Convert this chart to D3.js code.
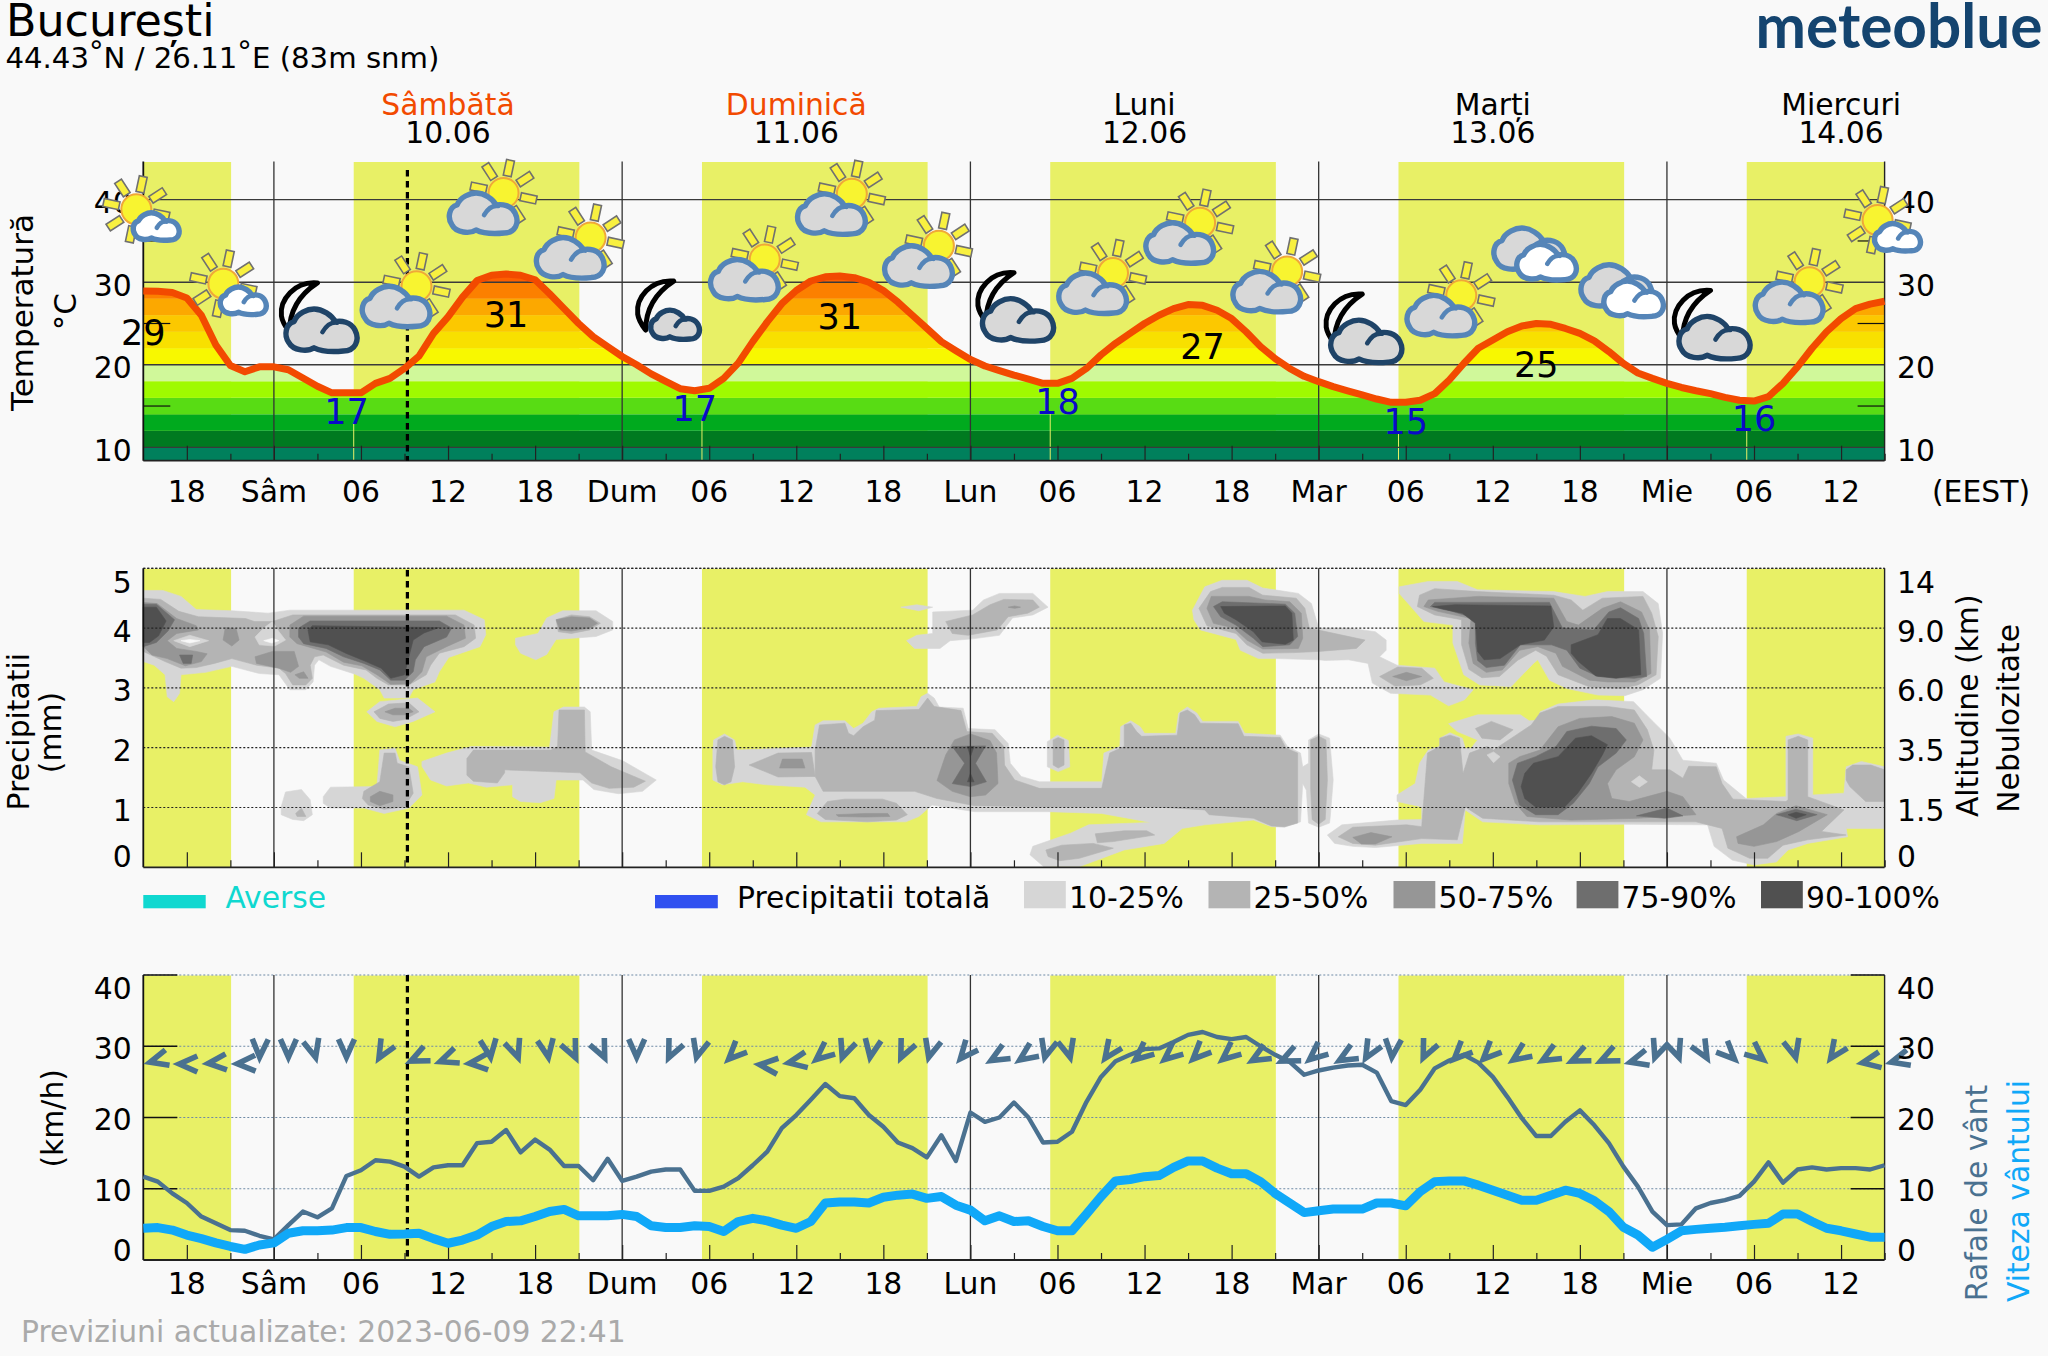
<!DOCTYPE html>
<html><head><meta charset="utf-8">
<style>html,body{margin:0;padding:0;background:#f9f9f9}svg{display:block}text{font-family:"DejaVu Sans",sans-serif}</style>
<script src="https://cdn.jsdelivr.net/npm/d3@7"></script></head><body>
<svg id="c" width="2048" height="1356"></svg>
<script>
// ---------- data (hours are counted from 15:00 on 09.06) ----------
const hoursTotal = 120;
const dayHours = [9,33,57,81,105];
const dayNames = ['Sâmbătă','Duminică','Luni','Marți','Miercuri'];
const dayDates = ['10.06','11.06','12.06','13.06','14.06'];
const dayNameColors = ['#f24a00','#f24a00','#000','#000','#000'];
const dayCenters = [21,45,69,93,117];
const daylight = [[0,6.05],[14.5,30.05],[38.5,54.05],[62.5,78.05],[86.5,102.05],[110.5,120]];
const nowHour = 18.2;
const xMajor = [3,9,15,21,27,33,39,45,51,57,63,69,75,81,87,93,99,105,111,117];
const xMinor = [6,12,18,24,30,36,42,48,54,60,66,72,78,84,90,96,102,108,114,120];
const xLabels = ['18','Sâm','06','12','18','Dum','06','12','18','Lun','06','12','18','Mar','06','12','18','Mie','06','12'];
const temperature = [28.95,28.9,28.75,28.1,26,22.4,19.9,19.15,19.75,19.75,19.4,18.4,17.4,16.6,16.6,16.6,17.75,18.35,19.55,21.05,23.8,25.8,28.2,30.2,30.85,31,30.85,30.3,28.6,26.8,25,23.4,22.2,21,20,18.9,18,17.1,16.85,17.15,18.35,20.2,22.8,25.2,27.4,29,30.15,30.65,30.75,30.55,30,29,27.6,26,24.4,22.8,21.7,20.65,19.85,19.3,18.75,18.25,17.75,17.75,18.35,19.55,21.2,22.6,23.8,25,26,26.8,27.3,27.2,26.6,25.6,24,22.2,20.75,19.55,18.6,17.95,17.35,16.85,16.35,15.85,15.45,15.45,15.7,16.5,18.15,20.15,22,23,24,24.7,25,24.9,24.4,23.8,22.9,21.6,20.15,19,18.35,17.75,17.25,16.85,16.5,16.05,15.7,15.6,16.15,17.75,19.75,22,24,25.6,26.8,27.35,27.7];
const tempBandEdges = [8,10,12,14,16,18,20,22,24,26,28,30,46];
const tempBandColors = ['#00805c','#007a20','#00aa1e','#58dc14','#9ffa00','#d0f89a','#f8f800','#f8e000','#fcc800','#fca800','#fc8000','#fc6000'];
const tempTicks = [40,30,20,10];
const tempMinorTicks = [35,25,15];
const highLabelHours = [0,25,48,73,96];
const highLabelValues = [29,31,31,27,25];
const highLabelLevels = [23.85,26.05,25.8,22.2,20];
const lowLabelHours = [14,38,63,87,111];
const lowLabelValues = [17,17,18,15,16];
const lowLabelLevels = [14.3,14.75,15.55,13.1,13.55];
const sunriseHours = [14.5,38.5,62.5,86.5,110.5];
const iconHours = [0,6,12,18,24,30,36,42,48,54,60,66,72,78,84,90,96,102,108,114,120];
const iconKinds = ['sunWhite','sunWhite','moonDark','sunGray','sunGray','sunGray','moonSmall','sunGray','sunGray','sunGray','moonDark','sunGray','sunGray','sunGray','moonDark','sunGray','grayWhite','grayWhite','moonDark','sunGray','sunWhite'];
const iconLevels = [37.8,28.8,25.55,28.3,39.6,34.2,25.9,31.55,39.5,33.2,26.8,29.9,36,30.1,24.2,27.2,33.3,28.85,24.65,28.8,36.5];

const precipTicks = [5,4,3,2,1,0];
const altitudeLabels = ['14','9.0','6.0','3.5','1.5','0'];
const cloudLegendLabels = ['10-25%','25-50%','50-75%','75-90%','90-100%'];
const cloudColors = ['#d6d6d6','#b4b4b4','#969696','#6e6e6e','#505050'];

const cloud10 = [
[[0,4.63],[1.35,4.63],[2.6,4.53],[3.65,4.31],[6.1,4.29],[8.6,4.25],[10.1,4.3],[22.1,4.3],[23.5,4.14],[23.6,3.89],[23.2,3.69],[21.05,3.51],[20.4,3.27],[20.1,3.1],[18.6,2.97],[18.3,2.83],[16.6,2.83],[16.3,2.97],[15.2,3.16],[14.6,3.23],[12.9,3.36],[12.1,3.47],[11.8,3.38],[11.7,3.1],[11.2,2.97],[10.1,2.97],[9.35,3.22],[8,3.24],[6.1,3.36],[4.3,3.26],[2.6,3.22],[2.5,2.91],[2.1,2.77],[1.65,2.85],[1.5,3.22],[0.75,3.38],[0,3.44]],
[[25.65,3.83],[27.2,3.91],[27.8,4.17],[28.9,4.29],[31.2,4.29],[32.35,4.11],[32.35,3.97],[31.2,3.86],[28.45,3.81],[27.8,3.56],[27.05,3.47],[26,3.58],[25.65,3.72]],
[[15.4,2.6],[16.3,2.77],[18.9,2.83],[20.1,2.6],[18.6,2.44],[17.35,2.35],[16.1,2.44]],
[[9.5,1.01],[9.8,1.26],[10.9,1.3],[11.5,1.13],[11.65,0.88],[11.05,0.78],[10.3,0.8],[9.5,0.88]],
[[12.4,1.18],[12.9,1.34],[16.1,1.35],[16.3,1.96],[17.35,1.99],[17.65,1.79],[18.9,1.68],[19.2,1.21],[18.3,0.99],[16.6,0.9],[15.2,0.99],[12.9,0.99],[12.4,1.07]],
[[19.2,1.77],[20.9,1.91],[22.6,2.02],[28,2.01],[28.3,2.6],[28.95,2.68],[30.4,2.68],[30.8,2.6],[30.9,1.96],[33.05,1.78],[35.35,1.46],[34.4,1.27],[32.75,1.23],[31.05,1.3],[30.3,1.46],[28.45,1.46],[28.3,1.15],[27.35,1.08],[26,1.1],[25.45,1.18],[25.45,1.38],[23.65,1.34],[22.4,1.41],[20.9,1.36],[19.8,1.46],[19.2,1.69]],
[[52.2,4.35],[53.3,4.39],[54.4,4.35],[53.45,4.29]],
[[52.6,3.79],[53.3,3.88],[54.4,3.91],[54.4,4.27],[57.15,4.3],[57.9,4.47],[59,4.58],[61.3,4.58],[62.35,4.35],[61.3,4.22],[59.9,4.17],[59,3.88],[57.15,3.82],[55.6,3.79],[54.9,3.66],[53.15,3.66]],
[[39.25,1.96],[39.3,2.13],[40.05,2.23],[40.75,2.13],[40.9,1.96],[46.05,2.01],[46.3,2.38],[46.85,2.45],[48.35,2.45],[48.95,2.32],[49.6,2.41],[50.2,2.6],[50.7,2.66],[53.3,2.69],[53.6,2.85],[54.05,2.91],[54.5,2.83],[54.85,2.68],[56.5,2.66],[56.85,2.32],[58.7,2.3],[59.6,2.07],[59.75,1.74],[60.5,1.52],[61.75,1.43],[66.05,1.43],[66.2,1.91],[67.3,2.02],[67.35,2.35],[68.05,2.45],[68.7,2.35],[69,2.24],[71.15,2.24],[71.35,2.58],[71.95,2.68],[72.6,2.58],[73,2.44],[75.45,2.44],[75.9,2.24],[78.35,2.21],[78.85,2.02],[79.75,1.91],[79.9,1.68],[80.3,1.74],[80.3,2.13],[81,2.23],[81.75,2.16],[82,1.46],[81.8,0.85],[81.75,0.74],[81,0.67],[80.3,0.74],[80.15,1.29],[79.9,1.4],[79.75,0.76],[78.65,0.67],[77.75,0.68],[76.5,0.79],[73.15,0.71],[71.6,0.65],[70.35,0.4],[67.6,0.29],[64.5,0.01],[62.05,0.01],[61.1,0.21],[61.3,0.35],[63.9,0.57],[65.15,0.71],[69.45,0.75],[66.05,0.9],[62.35,0.93],[57.3,0.93],[54.35,1.04],[53.45,0.85],[52.55,0.76],[46.7,0.76],[45.7,0.88],[46.3,1.21],[45.6,1.34],[42.95,1.38],[41.3,1.43],[39.9,1.38],[39.25,1.46]],
[[62.3,2.1],[63,2.21],[63.75,2.12],[63.85,1.68],[63.05,1.6],[62.3,1.68]],
[[81.6,0.54],[82.6,0.71],[86.4,0.79],[88.1,0.8],[88.1,1.01],[86.4,1.1],[86.4,1.21],[87.65,1.4],[87.95,1.74],[88.55,1.96],[89.35,2.02],[89.35,2.16],[90.05,2.25],[90.9,2.16],[91.1,1.99],[91.5,1.99],[91.95,2.13],[90.55,2.27],[89.95,2.4],[91.95,2.55],[94.9,2.55],[95.5,2.45],[96.25,2.46],[96.25,2.6],[97.5,2.73],[100,2.8],[102.7,2.77],[103.95,2.46],[105.2,2.16],[106.1,1.79],[108.4,1.74],[108.9,1.46],[110.45,1.15],[113.2,1.18],[113.2,2.19],[114.05,2.23],[115.05,2.16],[115.05,1.21],[117.2,1.24],[117.35,1.68],[118.4,1.77],[120,1.68],[120,0.65],[117.35,0.65],[117.45,0.51],[114.7,0.4],[113.35,0.29],[112.55,0.09],[111,0.04],[109.5,0.12],[108.25,0.35],[107.8,0.71],[102.1,0.72],[96.25,0.71],[92.3,0.76],[91.1,0.96],[90.9,0.4],[88.1,0.4],[84.9,0.33],[83.35,0.35],[82.1,0.4]],
[[72.3,4.3],[73.15,4.69],[74.35,4.8],[76.05,4.8],[77.15,4.67],[79.6,4.58],[80.5,4.41],[81,4],[83.05,4],[84.9,3.94],[85.65,3.8],[85.65,3.63],[85.2,3.52],[86.4,3.38],[89,3.33],[89.65,3.1],[91.65,2.97],[91.05,2.8],[89.95,2.7],[88.7,2.88],[85.95,2.91],[84.7,3.08],[84.4,3.41],[83.05,3.47],[81.45,3.46],[81,3.47],[78.05,3.49],[76.85,3.49],[75.6,3.63],[75.3,3.81],[72.85,3.97],[72.4,4.14]],
[[86.55,4.69],[88.55,4.78],[90.55,4.78],[91.95,4.64],[97.2,4.61],[99.35,4.53],[100.9,4.61],[103.35,4.61],[104.4,4.41],[104.7,3.91],[104.55,3.16],[103.35,2.97],[102.1,2.87],[100.25,2.88],[98.1,2.99],[96.9,3.13],[96.1,3.47],[95.8,3.41],[94.25,3.02],[92.1,3.05],[91,3.22],[90.25,3.75],[90.25,4.05],[88.25,4.11],[87.35,4.36],[86.55,4.58]]
];
const cloud25 = [
[[0,4.5],[1.2,4.48],[2.45,4.28],[3.8,4.19],[7.05,4.16],[7.65,4.11],[8.9,4.11],[10.3,4.22],[21.5,4.22],[22.8,4.05],[22.9,3.83],[22.1,3.69],[20.4,3.58],[19.8,3.38],[19.5,3.22],[18.3,3.05],[16.9,3.05],[16.1,3.16],[15.35,3.3],[13.8,3.38],[12.4,3.55],[11.8,3.52],[11.5,3.38],[11.65,3.16],[11.2,3.05],[10.3,3.05],[9.8,3.24],[9.35,3.33],[7.8,3.38],[6.1,3.49],[4.9,3.41],[3.65,3.34],[2.6,3.33],[1.5,3.44],[0,3.61]],
[[28.45,4.14],[29.5,4.22],[30.75,4.19],[31.5,4.08],[30.75,3.97],[29.5,3.91],[28.6,3.94]],
[[15.9,2.6],[16.9,2.73],[18.3,2.75],[19,2.6],[18,2.47],[17.2,2.44],[16.3,2.49]],
[[15.2,1.27],[16.3,1.43],[16.6,1.91],[17.35,1.91],[17.5,1.74],[18.3,1.68],[18.6,1.24],[18,1.01],[16.6,0.97],[15.5,1.04],[15.1,1.15]],
[[10.5,0.9],[10.9,0.99],[11.2,0.85],[10.6,0.85]],
[[22.3,1.82],[22.75,1.96],[28.1,1.96],[28.55,2.02],[28.65,2.63],[30.4,2.63],[30.45,1.93],[32.25,1.68],[34.6,1.44],[33.8,1.34],[32.1,1.32],[30.9,1.41],[30.1,1.58],[24.9,1.63],[24.9,1.58],[24.4,1.41],[22.75,1.44],[22.3,1.54]],
[[55.3,4.11],[57.15,4.22],[58.35,4.39],[59.3,4.48],[61.3,4.47],[61.75,4.35],[60.95,4.25],[59.6,4.19],[58.85,3.97],[56.85,3.88],[55.75,3.91]],
[[39.6,2.13],[40.05,2.19],[40.6,2.13],[40.75,1.68],[40.5,1.43],[40.05,1.38],[39.6,1.43],[39.45,1.68]],
[[41.75,1.71],[43.75,1.91],[46.05,1.92],[46.3,1.52],[43.75,1.51]],
[[46.3,1.96],[46.6,2.38],[48.35,2.41],[48.6,2.24],[48.95,2.2],[49.6,2.35],[50.4,2.46],[50.5,2.62],[53.45,2.64],[54.05,2.83],[54.5,2.69],[56.35,2.62],[56.75,2.27],[58.5,2.24],[59.3,2.02],[59.35,1.71],[60.05,1.46],[61.75,1.32],[66.05,1.32],[66.6,1.91],[67.6,2.02],[67.6,2.38],[68.05,2.41],[68.45,2.27],[68.8,2.19],[71.25,2.21],[71.45,2.58],[71.95,2.63],[72.45,2.55],[72.85,2.41],[75.45,2.4],[75.85,2.19],[78.35,2.17],[78.75,1.99],[79.55,1.91],[79.55,0.74],[78.65,0.68],[77.75,0.69],[76.5,0.82],[73.45,0.88],[73.15,0.96],[69.75,1.01],[66.55,1.01],[62.35,1.01],[57.3,1.03],[54.7,1.15],[53.15,1.27],[46.85,1.27],[46.3,1.52]],
[[62.7,2.13],[63.05,2.17],[63.45,2.13],[63.45,1.71],[63.05,1.66],[62.7,1.71]],
[[80.45,2.13],[81,2.19],[81.5,2.13],[81.6,1.46],[81.45,0.8],[81,0.72],[80.55,0.8],[80.45,1.3]],
[[46.45,0.9],[47.15,1.1],[48.35,1.14],[50.95,1.14],[51.9,1.07],[52.65,0.88],[51.9,0.79],[49.9,0.76],[47,0.8]],
[[65.6,0.56],[67.6,0.61],[69.15,0.61],[69.7,0.54],[66.85,0.43],[65.75,0.41]],
[[62.2,0.29],[63.3,0.37],[65.45,0.4],[66.85,0.32],[64.5,0.15],[63.15,0.11],[62.35,0.18]],
[[82.35,0.51],[83.35,0.67],[87.05,0.71],[88.1,0.68],[88.5,1.91],[89.35,2.02],[89.35,2.16],[90.05,2.21],[90.7,2.16],[90.95,1.57],[91.4,1.91],[92.6,2.02],[93.05,1.96],[94.1,2.13],[95.65,2.38],[96.25,2.58],[97.5,2.69],[100.9,2.69],[102.75,2.63],[103.65,2.3],[104.1,1.96],[103.95,1.63],[105.2,1.63],[106.1,1.49],[106.5,1.69],[108.4,1.68],[108.8,1.4],[109.55,1.14],[113.2,1.1],[113.35,1.13],[113.35,2.13],[114.05,2.19],[114.7,2.13],[114.7,1.18],[117.2,0.96],[115.65,0.6],[117.35,0.54],[114.7,0.46],[113,0.37],[111.95,0.15],[110.7,0.15],[109.2,0.32],[108.8,0.65],[107,0.76],[102.1,0.76],[96.25,0.76],[92.3,0.82],[91.1,1.01],[90.55,0.46],[88.1,0.48],[84.9,0.37],[83.35,0.4]],
[[91.8,2.32],[92.9,2.44],[94.4,2.3],[93.5,2.13],[92.25,2.16]],
[[117.35,1.63],[117.8,1.71],[119.05,1.71],[120,1.63],[120,1.1],[118.7,1.1],[117.6,1.35],[117.35,1.46]],
[[72.75,4.33],[73.55,4.61],[74.35,4.68],[76.2,4.68],[77.15,4.55],[79.45,4.5],[80.05,4.33],[80.35,4],[84.2,3.8],[83.6,3.66],[81,3.61],[79.3,3.59],[77.15,3.58],[76.05,3.72],[75.3,3.91],[73.3,4.04]],
[[85.2,3.19],[86.45,3.35],[88.1,3.33],[88.9,3.16],[88,3.05],[86.25,3.03]],
[[87.8,4.36],[87.95,4.55],[89,4.66],[91.95,4.61],[97.2,4.55],[98.4,4.47],[99.2,4.3],[100.55,4.5],[103.35,4.53],[103.95,4.25],[104.4,3.86],[104.25,3.22],[103,3.05],[101.8,2.99],[99.65,3.02],[97.5,3.22],[96.7,3.53],[95.95,3.63],[94.7,3.46],[93.45,3.19],[92.25,3.17],[91.35,3.31],[90.85,3.72],[90.85,4.14],[89,4.22]]
];
const cloud50 = [
[[0,4.43],[0.95,4.41],[2.3,4.16],[3.65,4.04],[3.8,3.97],[2.3,3.91],[1.65,3.79],[2.3,3.66],[3.65,3.61],[4.4,3.57],[4,3.44],[2.9,3.37],[1.65,3.49],[0.6,3.55],[0,3.69]],
[[5.65,4.01],[6.4,3.99],[6.6,3.8],[6.1,3.7],[5.5,3.8]],
[[7.7,3.52],[8.9,3.61],[10.4,3.61],[10.7,3.36],[10.15,3.26],[9.35,3.33],[7.8,3.41]],
[[10.45,3.22],[11.05,3.27],[11.35,3.16],[10.75,3.16]],
[[10.1,4.05],[11.05,4.2],[20.9,4.2],[22.1,4.05],[22.2,3.83],[20.9,3.69],[19.5,3.52],[19.2,3.27],[18.4,3.07],[17.05,3.06],[16.1,3.22],[15.05,3.37],[13.8,3.43],[12.6,3.6],[10.6,3.74],[10.1,3.85]],
[[28.45,4.14],[29.5,4.19],[30.75,4.17],[31.3,4.08],[30.75,4],[29.5,3.95],[28.7,3.97]],
[[16.65,2.6],[17.35,2.66],[18.3,2.66],[18.6,2.6],[18,2.55],[17.2,2.55]],
[[15.65,1.18],[16.3,1.27],[17.2,1.21],[17.2,1.1],[16.3,1.03],[15.65,1.1]],
[[43.85,1.66],[44.05,1.81],[45.4,1.81],[45.6,1.66]],
[[54.7,1.45],[55.3,1.88],[55.9,2.13],[57,2.23],[58.35,2.12],[58.8,1.91],[58.9,1.4],[58.05,1.21],[57,1.18],[55.75,1.27]],
[[47.75,0.88],[49.75,0.9],[51.3,0.9],[51.45,0.85],[49.75,0.84],[47.9,0.85]],
[[59.6,4.35],[60.05,4.37],[60.45,4.35],[60.05,4.33]],
[[73.3,4.33],[73.6,4.53],[76.2,4.53],[77.3,4.47],[79,4.44],[79.8,4.25],[79.9,3.83],[79.6,3.66],[77.15,3.65],[76.05,3.8],[75.15,4],[73.75,4.08]],
[[86.1,3.19],[87.05,3.26],[88.1,3.19],[87.05,3.12]],
[[88.25,4.36],[88.55,4.47],[91.95,4.53],[97.2,4.5],[98.1,4.11],[98.9,4.05],[100.55,4.33],[101.8,4.44],[103.25,4.27],[103.8,3.97],[103.9,3.24],[102.8,3.1],[100.9,3.1],[99.65,3.13],[97.8,3.36],[97.35,3.58],[96.1,3.69],[94.85,3.63],[93.65,3.3],[92.55,3.26],[91.65,3.41],[91.35,3.75],[91.5,4.16],[89.2,4.28]],
[[94.1,1.74],[94.85,1.85],[96.25,1.96],[97.5,2.35],[99,2.49],[101.2,2.52],[102.75,2.41],[103.35,2.13],[102.75,1.85],[101.5,1.63],[100.9,1.4],[101.2,1.15],[102.4,1.1],[105,1.27],[106.1,1.18],[107,0.88],[103,0.82],[98.4,0.79],[95.35,0.85],[94.55,1.07],[94.1,1.4]],
[[109.8,0.51],[111.65,0.71],[112.55,0.9],[113.9,1.03],[116.05,0.88],[114.1,0.6],[112.55,0.43],[111,0.35],[109.9,0.4]],
[[83.35,0.5],[84.6,0.58],[86.05,0.51],[84.9,0.39],[83.95,0.39]]
];
const cloud75 = [
[[0,4.4],[0.9,4.4],[2.15,4.14],[1.7,3.95],[0.9,3.76],[0,3.69]],
[[2.5,3.55],[3.4,3.55],[3.3,3.41],[2.75,3.41]],
[[10.7,4],[11.5,4.12],[20.4,4.12],[21.25,4],[20.9,3.85],[19.35,3.69],[18.75,3.47],[18.6,3.27],[18,3.13],[17.05,3.13],[16.3,3.3],[15.2,3.41],[13.8,3.52],[12.6,3.66],[11.05,3.74],[10.7,3.85]],
[[55.75,2.02],[58.05,2.03],[57.35,1.74],[58.1,1.43],[57,1.35],[55.75,1.4],[56.6,1.74]],
[[73.75,4.36],[74.35,4.44],[78.7,4.4],[79.35,4.25],[79.55,3.86],[79,3.72],[77.15,3.69],[76.5,3.83],[75.3,4.05],[74.25,4.19]],
[[88.7,4.36],[89,4.43],[96.9,4.43],[97.8,4],[99.95,3.97],[101,4.27],[101.8,4.34],[103.05,4.16],[103.4,3.91],[103.6,3.19],[102.75,3.16],[100.25,3.19],[99,3.33],[98.1,3.63],[97.05,3.72],[94.9,3.72],[93.8,3.38],[92.55,3.34],[91.95,3.46],[91.8,3.75],[91.8,4.16],[89.8,4.31]],
[[94.35,1.46],[94.7,1.74],[95.95,1.85],[97.35,2.02],[98.1,2.27],[99.8,2.36],[101.5,2.32],[102.2,2.13],[101.5,1.91],[100.25,1.68],[99.65,1.4],[98.55,1.07],[97.5,0.88],[95.95,0.88],[94.85,1.04]],
[[102.9,0.86],[105,0.99],[106.1,0.86],[104.85,0.82]],
[[112.55,0.88],[113.9,0.97],[115.35,0.88],[113.95,0.78]]
];
const cloud90 = [
[[0,4.35],[0.9,4.35],[1.57,4.12],[1.05,3.87],[0.43,3.76],[0,3.76]],
[[11.35,3.97],[11.65,4.04],[20.4,4.01],[19.35,3.92],[18.6,3.8],[18.3,3.52],[18,3.22],[17.05,3.16],[16.4,3.33],[15.35,3.44],[13.95,3.58],[12.75,3.72],[11.5,3.77]],
[[56.8,2.02],[57.25,2.02],[57,1.85]],
[[56.8,1.43],[57.25,1.43],[57,1.57]],
[[74.25,4.36],[78.7,4.37],[79.15,4.25],[79.25,3.8],[78.7,3.73],[77.1,3.77],[76.5,3.94],[75.3,4.14],[74.5,4.25]],
[[88.85,4.36],[90.4,4.39],[97,4.37],[97.2,4.02],[96.55,3.8],[94.9,3.72],[93.5,3.49],[92.4,3.47],[91.95,3.61],[91.8,4.08],[90.9,4.25],[89.65,4.31]],
[[98.4,3.72],[100.25,3.89],[100.9,4.16],[101.8,4.16],[103.05,3.97],[103.2,3.22],[101.5,3.16],[100.1,3.2],[98.9,3.44],[98.4,3.58]],
[[94.95,1.35],[95.2,1.57],[95.8,1.74],[97.5,1.85],[98.7,2.16],[99.8,2.2],[100.9,2.05],[100.55,1.88],[99.8,1.57],[98.85,1.24],[97.95,1.01],[95.95,1.01],[95.2,1.15]],
[[113.35,0.88],[113.9,0.92],[114.6,0.88],[113.9,0.82]]
];
const cloudGapsLight = [
[[2.1,3.79],[3.2,3.88],[4.5,3.79],[3.2,3.69]],
[[7.7,3.85],[8.3,4],[8.9,4.11],[9.35,3.94],[9.8,3.8],[9.05,3.7],[8,3.72]],
[[102.55,1.43],[103.1,1.53],[103.65,1.43],[103.1,1.34]],
[[92.6,1.88],[93.05,1.93],[93.5,1.85],[93.05,1.75]]
];
const cloudGapsClear = [
[[2.6,3.79],[3.2,3.81],[3.9,3.79],[3.2,3.75]],
[[8.3,3.79],[8.9,3.83],[9.35,3.79],[8.85,3.75]]
];

const windTicks = [40,30,20,10,0];
const gusts = [11.7,11,9.35,8,6.1,5.15,4.2,4.1,3.4,2.9,4.9,6.8,6,7.25,11.8,12.6,14,13.8,13.1,11.7,13,13.3,13.3,16.4,16.6,18.25,15.1,16.9,15.5,13.2,13.2,11.2,14.2,11.1,11.7,12.4,12.7,12.7,9.7,9.7,10.3,11.5,13.3,15.2,18.5,20.35,22.5,24.7,23,22.7,20.35,18.7,16.5,15.7,14.4,17.5,13.9,20.7,19.4,20,22.1,20,16.5,16.6,18,22.2,25.7,27.9,28.8,29.6,29.7,30.6,31.6,32,31.3,31,31.3,30,28.8,27.8,26,26.6,27,27.3,27.4,26.3,22.3,21.75,23.9,26.9,28,28.8,27.7,25.7,22.9,19.9,17.4,17.4,19.4,21,18.9,16.4,13.1,10.3,6.8,4.9,5,7.25,8,8.4,9,11,13.7,10.85,12.7,13,12.7,12.9,12.9,12.7,13.3];
const windSpeed = [4.45,4.55,4.2,3.5,3,2.4,1.9,1.5,2.1,2.4,3.75,4.1,4.1,4.2,4.55,4.55,4,3.6,3.65,3.75,3,2.35,2.8,3.5,4.7,5.4,5.5,6.1,6.8,7.1,6.2,6.2,6.2,6.4,6.1,4.8,4.55,4.55,4.8,4.7,4,5.4,5.85,5.5,4.9,4.45,5.4,8,8.15,8.15,8,8.8,9.1,9.25,8.65,8.9,7.7,7,5.5,6.2,5.4,5.5,4.7,4.1,4.1,6.45,8.9,11.1,11.3,11.7,11.85,13,13.9,13.9,12.9,12.1,12.1,11,9.35,8,6.65,6.9,7.15,7.15,7.15,8,8,7.6,9.6,11,11.1,11.1,10.5,9.8,9.1,8.4,8.4,9.1,9.8,9.35,8.3,6.8,4.6,3.5,1.8,2.9,4.1,4.3,4.45,4.6,4.8,5,5.15,6.45,6.45,5.4,4.45,4.1,3.65,3.2,3.2];
// arrow rotation in degrees, one every two hours: 0 points down, 90 points left
const windArrowDeg = [75,90,85,88,2,0,-15,0,30,65,70,85,-8,-20,-10,-25,-25,0,25,15,45,95,80,50,20,10,25,15,40,60,55,15,-15,35,50,50,45,50,60,65,50,60,30,5,25,45,45,55,60,65,65,75,20,-20,-30,-45,-50,-15,35,80,75];
const windArrowLevel = 27.5;

// ---------- scales ----------
const W = 2048, H = 1356, left = 143.3, right = 1884.6;
const x = d3.scaleLinear().domain([0,hoursTotal]).range([left,right]);
const yT = d3.scaleLinear().domain([10,40]).range([447.3,199.7]);
const yP = d3.scaleLinear().domain([0,5]).range([867.3,568.3]);
const yW = d3.scaleLinear().domain([0,40]).range([1260,975]);
const panels = [{top:161.5,bottom:460.7,y:yT},{top:568.3,bottom:867.3,y:yP},{top:975,bottom:1260,y:yW}];

const svg = d3.select('#c');
svg.append('rect').attr('width',W).attr('height',H).attr('fill','#f9f9f9');
const FS = 29.8;

function txt(g,tx,ty,s,o={}){
  return g.append('text').attr('x',tx).attr('y',ty).text(s)
    .attr('font-size',o.size||FS).attr('fill',o.fill||'#000')
    .attr('text-anchor',o.anchor||'start');
}
function vtxt(g,tx,ty,s,o={}){
  return g.append('text').attr('transform',`translate(${tx},${ty}) rotate(-90)`).text(s)
    .attr('font-size',o.size||FS).attr('fill',o.fill||'#000').attr('text-anchor','middle');
}

// ---------- daylight ----------
panels.forEach(p=>{
  svg.append('g').selectAll('rect').data(daylight).join('rect')
    .attr('x',d=>x(d[0])).attr('width',d=>x(d[1])-x(d[0]))
    .attr('y',p.top+0.5).attr('height',p.bottom-p.top-0.5).attr('fill','#e8f066');
});

// ---------- temperature bands under the curve ----------
const tempArea = d3.area().x((d,i)=>x(i)).y0(panels[0].bottom).y1(d=>yT(d));
svg.append('clipPath').attr('id','underT').append('path').attr('d',tempArea(temperature));
const gb = svg.append('g').attr('clip-path','url(#underT)');
tempBandColors.forEach((c,i)=>{
  const a = Math.max(yT(tempBandEdges[i+1]),panels[0].top), b = Math.min(yT(tempBandEdges[i]),panels[0].bottom);
  gb.append('rect').attr('x',left).attr('width',right-left).attr('y',a).attr('height',b-a).attr('fill',c);
});
svg.append('g').selectAll('line').data(sunriseHours).join('line')
  .attr('x1',d=>x(d)).attr('x2',d=>x(d))
  .attr('y1',(d,i)=>yT(lowLabelLevels[i])+12).attr('y2',panels[0].bottom)
  .attr('stroke','#e8f066').attr('stroke-width',1);

// ---------- cloud contours ----------
const cloudPath = d3.line().x(d=>x(d[0])).y(d=>yP(d[1])).curve(d3.curveLinearClosed);
function drawCloud(list,color){
  svg.append('g').selectAll('path').data(list).join('path')
    .attr('d',cloudPath).attr('fill',color).attr('stroke',color).attr('stroke-width',0.6).attr('stroke-linejoin','round');
}
[cloud10,cloud25,cloud50,cloud75,cloud90].forEach((l,i)=>drawCloud(l,cloudColors[i]));
drawCloud(cloudGapsLight,cloudColors[0]);
drawCloud(cloudGapsClear,'#f9f9f9');

// ---------- temperature grid, day lines ----------
svg.append('g').selectAll('line').data(tempTicks).join('line')
  .attr('x1',left).attr('x2',right).attr('y1',d=>yT(d)).attr('y2',d=>yT(d))
  .attr('stroke','#3a3a3a').attr('stroke-width',1.3);
[left,right].forEach((px,i)=>{
  svg.append('g').selectAll('line').data(tempMinorTicks).join('line')
    .attr('x1',px).attr('x2',px+(i?-27:27)).attr('y1',d=>yT(d)).attr('y2',d=>yT(d))
    .attr('stroke','#111').attr('stroke-width',1.2);
});
svg.append('g').selectAll('line').data(precipTicks.filter(d=>d>0)).join('line')
  .attr('x1',left).attr('x2',right).attr('y1',d=>yP(d)).attr('y2',d=>yP(d))
  .attr('stroke','#222').attr('stroke-width',1.2).attr('stroke-dasharray','2 2');
svg.append('g').selectAll('line').data(windTicks.filter(d=>d>0)).join('line')
  .attr('x1',left).attr('x2',right).attr('y1',d=>yW(d)).attr('y2',d=>yW(d))
  .attr('stroke','#6f8aa6').attr('stroke-width',1.2).attr('stroke-dasharray','2 2');
[left,right].forEach((px,i)=>{
  svg.append('g').selectAll('line').data(windTicks.filter(d=>d>0)).join('line')
    .attr('x1',px).attr('x2',px+(i?-34:34)).attr('y1',d=>yW(d)).attr('y2',d=>yW(d))
    .attr('stroke','#111').attr('stroke-width',1.4);
});

panels.forEach(p=>{
  svg.append('g').selectAll('line').data(dayHours).join('line')
    .attr('x1',d=>x(d)).attr('x2',d=>x(d)).attr('y1',p.top).attr('y2',p.bottom)
    .attr('stroke','#333').attr('stroke-width',1.3);
  const maj = d3.axisBottom(x).tickValues(xMajor).tickSizeInner(-15).tickSizeOuter(0).tickFormat('');
  const min = d3.axisBottom(x).tickValues(xMinor).tickSizeInner(-7).tickSizeOuter(0).tickFormat('');
  [maj,min].forEach(a=>{
    const g = svg.append('g').attr('transform',`translate(0,${p.bottom})`).call(a);
    g.select('.domain').remove();
    g.selectAll('line').attr('stroke','#222').attr('stroke-width',1.2);
  });
  svg.append('line').attr('x1',left).attr('x2',left).attr('y1',p.top).attr('y2',p.bottom).attr('stroke','#111').attr('stroke-width',1.8);
  svg.append('line').attr('x1',right).attr('x2',right).attr('y1',p.top).attr('y2',p.bottom).attr('stroke','#222').attr('stroke-width',1.4);
  svg.append('line').attr('x1',left).attr('x2',right).attr('y1',p.bottom).attr('y2',p.bottom).attr('stroke','#222').attr('stroke-width',1.8);
});
svg.append('line').attr('x1',left).attr('x2',right).attr('y1',yP(5)).attr('y2',yP(5)).attr('stroke','#222').attr('stroke-width',1.2).attr('stroke-dasharray','2 2');

// ---------- now marker ----------
[[170,460.7],[570,867.3],[975,1260]].forEach(r=>{
  svg.append('line').attr('x1',x(nowHour)).attr('x2',x(nowHour)).attr('y1',r[0]).attr('y2',r[1])
    .attr('stroke','#000').attr('stroke-width',3.2).attr('stroke-dasharray','6.5 4.5');
});

// ---------- temperature curve ----------
const line = yf => d3.line().x((d,i)=>x(i)).y(d=>yf(d));
svg.append('path').attr('d',line(yT)(temperature)).attr('fill','none').attr('stroke','#f24a00').attr('stroke-width',7).attr('stroke-linejoin','round');

highLabelHours.forEach((h,i)=>txt(svg,x(h),yT(highLabelLevels[i])+12.5,highLabelValues[i],{size:35,anchor:'middle'}));
lowLabelHours.forEach((h,i)=>txt(svg,x(h),yT(lowLabelLevels[i])+12.5,lowLabelValues[i],{size:35,anchor:'middle',fill:'#0a0ac8'}));

// ---------- wind ----------
svg.append('g').selectAll('path').data(windArrowDeg).join('path')
  .attr('transform',(d,i)=>`translate(${x(i*2)},${yW(windArrowLevel)}) rotate(${d})`)
  .attr('d','M-8,-25 L0,-7 L8,-25')
  .attr('fill','none').attr('stroke','#4a7190').attr('stroke-width',5.6).attr('stroke-linejoin','miter').attr('stroke-miterlimit',6);
svg.append('path').attr('d',line(yW)(gusts)).attr('fill','none').attr('stroke','#4a7190').attr('stroke-width',4.4).attr('stroke-linejoin','round');
svg.append('path').attr('d',line(yW)(windSpeed)).attr('fill','none').attr('stroke','#10a8f8').attr('stroke-width',9).attr('stroke-linejoin','round');

// ---------- y tick labels ----------
function yLabels(scale,ticks,fmt,side,bump){
  const ax = (side==='l'?d3.axisLeft(scale):d3.axisRight(scale)).tickValues(ticks).tickSize(0).tickPadding(side==='l'?11.6:12.4).tickFormat(fmt);
  const g = svg.append('g').attr('transform',`translate(${side==='l'?left:right},0)`).call(ax);
  g.select('.domain').remove();
  g.selectAll('text').attr('font-size',FS).attr('font-family','"DejaVu Sans"').attr('fill','#000').attr('dy',d=>bump(d)+'px');
}
const t1 = ()=>13;
yLabels(yT,tempTicks,d=>d,'l',t1); yLabels(yT,tempTicks,d=>d,'r',t1);
const t2 = d=>d===5?24:(d===0?-0.6:13);
yLabels(yP,precipTicks,d=>d,'l',t2);
yLabels(yP,precipTicks,(d,i)=>altitudeLabels[i],'r',t2);
const t3 = d=>d===40?23.3:(d===0?0:12);
yLabels(yW,windTicks,d=>d,'l',t3); yLabels(yW,windTicks,d=>d,'r',t3);

// ---------- x labels ----------
[[501.7],[1294]].forEach(r=>{
  xMajor.forEach((h,i)=>txt(svg,x(h),r[0],xLabels[i],{anchor:'middle'}));
});
txt(svg,1981,501.7,'(EEST)',{anchor:'middle'});

// ---------- headers ----------
dayCenters.forEach((h,i)=>{
  txt(svg,x(h),115,dayNames[i],{anchor:'middle',fill:dayNameColors[i]});
  txt(svg,x(h),142.7,dayDates[i],{anchor:'middle'});
});
txt(svg,6,36,'București',{size:44.4});
const sub = txt(svg,5.4,68.3,'',{size:29.2});
[['44.43',0],['°',-7],['N / 26.11',7],['°',-7],['E (83m snm)',7]].forEach(t=>sub.append('tspan').attr('dy',t[1]).text(t[0]));
svg.append('text').attr('x',1755.5).attr('y',47.7).text('meteoblue').attr('font-size',62)
  .attr('textLength',287).attr('lengthAdjust','spacingAndGlyphs')
  .attr('font-weight',700).attr('fill','#14446f').style('font-family','Lato');

// ---------- axis titles ----------
vtxt(svg,33,312.5,'Temperatură',{size:31}); vtxt(svg,76,311.7,'°C',{size:31});
vtxt(svg,29,731.7,'Precipitatii'); vtxt(svg,61,732.5,'(mm)');
vtxt(svg,1977.5,705.8,'Altitudine (km)'); vtxt(svg,2019,718.3,'Nebulozitate');
vtxt(svg,63,1118.3,'(km/h)');
vtxt(svg,1987.3,1193,'Rafale de vânt',{fill:'#4a7190'}); vtxt(svg,2028.8,1191,'Viteza vântului',{fill:'#10a8f8'});
txt(svg,21,1341.7,'Previziuni actualizate: 2023-06-09 22:41',{fill:'#aaaaaa'});

// ---------- legend ----------
svg.append('rect').attr('x',143.3).attr('y',895).attr('width',62.4).attr('height',13.3).attr('fill','#10d8d0');
txt(svg,225.4,908.3,'Averse',{fill:'#10d8d0'});
svg.append('rect').attr('x',655).attr('y',895).attr('width',62.8).attr('height',13.3).attr('fill','#3050f0');
txt(svg,737,908.3,'Precipitatii totală');
[1024,1208.5,1393.5,1576.6,1761].forEach((lx,i)=>{
  svg.append('rect').attr('x',lx).attr('y',881).attr('width',41.8).attr('height',27.3).attr('fill',cloudColors[i]);
  txt(svg,lx+45,908.3,cloudLegendLabels[i]);
});

// ---------- weather icons ----------
const CLOUD = 'M-8,17 C-14,21 -28,20 -32,12 C-37,5 -35,-6 -27,-8 C-24,-16 -14,-20 -8,-20 C0,-20 9,-14 12,-8 C18,-9 27,-8 31,0 C36,10 31,20 20,20 C10,21 0,21 -8,17 Z';
const HOOK = 'M0,2 C3,-3 8,-8 14,-7';
const MOON = 'M18,-25 C-5,-27 -20,-8 -18,8 C-17,15 -13,20 -10,24 C-10,10 -5,-10 18,-25 Z';
function sun(g,cx,cy){
  const s = g.append('g').attr('transform',`translate(${cx},${cy})`);
  d3.range(8).forEach(k=>{
    s.append('rect').attr('x',-4).attr('y',-33.5).attr('width',8).attr('height',16)
      .attr('transform',`rotate(${12+k*45})`).attr('fill','#f8f040').attr('stroke','#707070').attr('stroke-width',1.6);
  });
  s.append('circle').attr('r',15).attr('fill','#f8f430').attr('stroke','#f0a838').attr('stroke-width',2);
}
function cloud(g,cx,cy,k,fill,stroke){
  const c = g.append('g').attr('transform',`translate(${cx},${cy}) scale(${k})`);
  c.append('path').attr('d',CLOUD).attr('fill',fill).attr('stroke',stroke).attr('stroke-width',5.4/k).attr('stroke-linejoin','round');
  c.append('path').attr('d',HOOK).attr('fill','none').attr('stroke',stroke).attr('stroke-width',4.6/k).attr('stroke-linecap','round');
}
function moon(g,cx,cy){
  g.append('path').attr('transform',`translate(${cx},${cy})`).attr('d',MOON).attr('fill','#f9f9f9').attr('stroke','#000').attr('stroke-width',5).attr('stroke-linejoin','round');
}
const BLUE='#5585b8', NAVY='#1f4468', GRAY='#d8d8d8';
iconHours.forEach((h,i)=>{
  const g = svg.append('g').attr('transform',`translate(${x(h)},${yT(iconLevels[i])})`);
  const kind = iconKinds[i];
  if(kind==='sunGray'){ sun(g,12,-10); cloud(g,-7.5,10,1,GRAY,BLUE); }
  if(kind==='sunWhite'){ sun(g,-7,-8.5); cloud(g,13.5,8.5,0.68,'#fff',BLUE); }
  if(kind==='moonDark'){ moon(g,-18,-11); cloud(g,5,11,1.05,GRAY,NAVY); }
  if(kind==='moonSmall'){ moon(g,-10,-10); cloud(g,10,8.5,0.72,GRAY,NAVY); }
  if(kind==='grayWhite'){ cloud(g,-6,-6,1.05,GRAY,BLUE); cloud(g,11,7,0.88,'#fff',BLUE); }
});
</script></body></html>
